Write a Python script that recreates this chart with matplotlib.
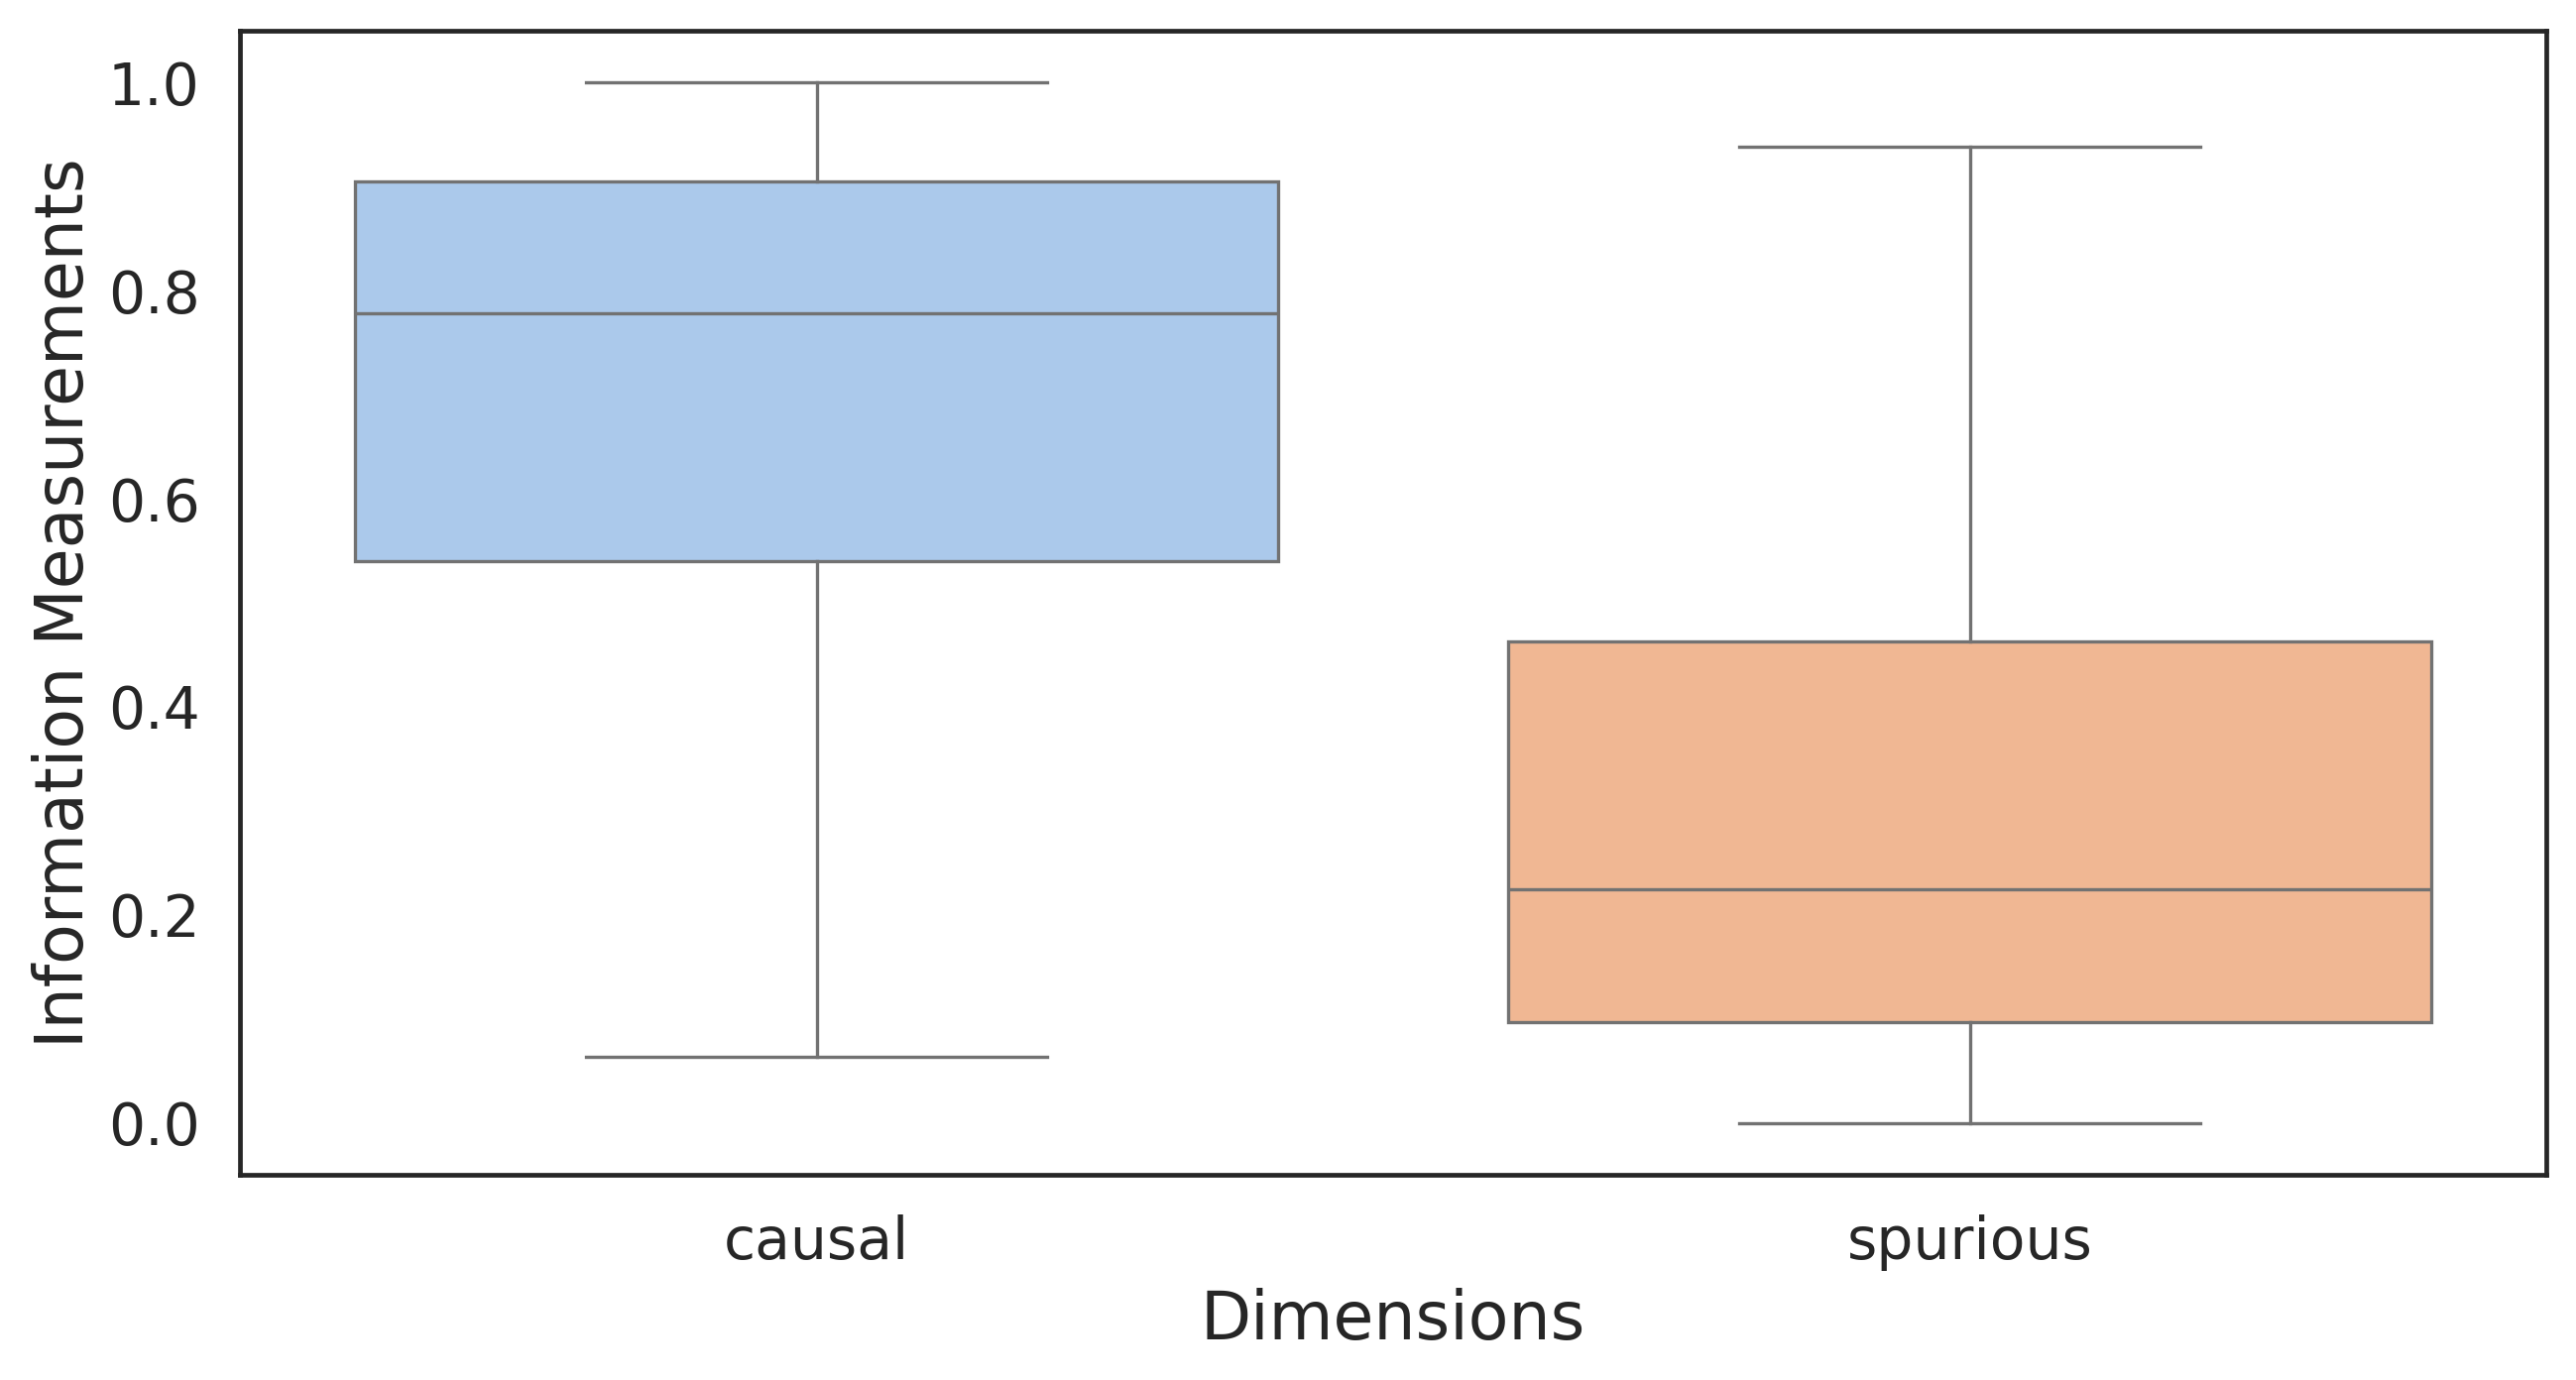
import matplotlib
matplotlib.use("Agg")
import matplotlib.pyplot as plt

categories = ["causal", "spurious"]
whislo = [0.063, 0.0]
q1 = [0.540, 0.097]
med = [0.778, 0.225]
q3 = [0.905, 0.463]
whishi = [1.0, 0.938]
box_colors = ["#abc9eb", "#f0b793"]
line_color = "#727272"

plt.rcParams['font.family'] = ['DejaVu Sans']
fig = plt.figure(figsize=(12.99, 6.96), dpi=200)
ax = fig.add_axes([242/2598, 1 - 1185/1392, (2568-242)/2598, (1185-31)/1392])

stats = []
for i, c in enumerate(categories):
    stats.append(dict(label=c, whislo=whislo[i], q1=q1[i], med=med[i], q3=q3[i], whishi=whishi[i], fliers=[]))

bp = ax.bxp(stats, positions=range(len(categories)), widths=0.8, patch_artist=True,
            showfliers=False,
            boxprops=dict(edgecolor=line_color, linewidth=1.2),
            whiskerprops=dict(color=line_color, linewidth=1.2),
            capprops=dict(color=line_color, linewidth=1.2),
            medianprops=dict(color=line_color, linewidth=1.2),
            capwidths=0.4)
for patch, col in zip(bp['boxes'], box_colors):
    patch.set_facecolor(col)

ax.set_xlim(-0.5, 1.5)
ax.set_ylim(-0.05, 1.05)
ax.set_yticks([0.0, 0.2, 0.4, 0.6, 0.8, 1.0])
ax.set_xticks(range(len(categories)))
ax.set_xticklabels(categories)
for s in ax.spines.values():
    s.set_linewidth(1.7)
    s.set_color("#262626")
ax.tick_params(axis='both', labelsize=21, colors="#262626", length=0, pad=14.5)
ax.set_xlabel("Dimensions", fontsize=24, color="#262626", labelpad=6)
ax.set_ylabel("Information Measurements", fontsize=24, color="#262626", labelpad=4)

fig.savefig("out.png", dpi=200)
